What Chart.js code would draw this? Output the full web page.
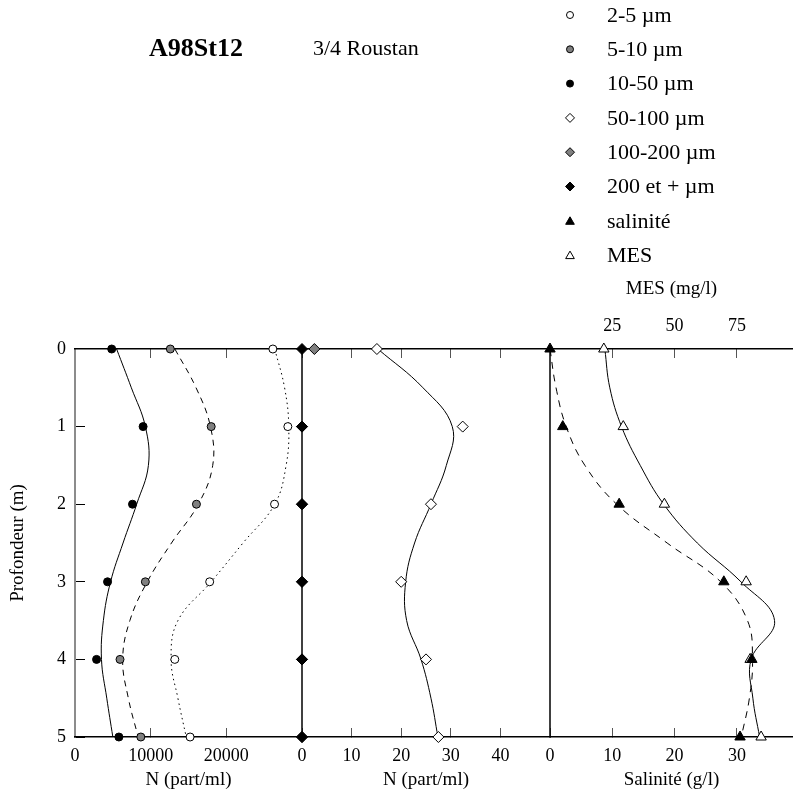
<!DOCTYPE html>
<html><head><meta charset="utf-8">
<script src="https://cdn.jsdelivr.net/npm/chart.js@4.4.1/dist/chart.umd.min.js"></script>
<style>
html,body{margin:0;padding:0;background:#fff;}
#wrap{position:relative;width:793px;height:796px;overflow:hidden;}
canvas{position:absolute;left:0;top:0;}
.t{position:absolute;font-family:"Liberation Serif","Times New Roman",serif;color:#000;white-space:nowrap;line-height:1;}
</style></head><body>
<div id="wrap">
<canvas id="c" width="793" height="796"></canvas>
<div class="t" style="left:149px;top:35px;font-size:26px;font-weight:bold;">A98St12</div>
<div class="t" style="left:313px;top:37px;font-size:22px;">3/4 Roustan</div>
</div>
<script>
// ---- data ----
const depths = [0, 1, 2, 3, 4, 5];
const curveDepths = [0, 0.5, 1, 1.5, 2, 2.5, 3, 3.5, 4, 4.5, 5];

// panel 1 : N (part/ml)
const n2to5   = [26150, 28130, 26370, 17800, 13190, 15210];
const n5to10  = [12600, 18000, 16050, 9300, 5950, 8700];
const n10to50 = [4850, 9000, 7600, 4300, 2850, 5800];
const curve2to5   = [26400, 27700, 28250, 27900, 26400, 22200, 18000, 13600, 12700, 13600, 14700];
const curve5to10  = [13200, 16000, 17900, 18200, 16300, 12750, 9550, 7250, 6300, 7050, 8350];
const curve10to50 = [5500, 7450, 9300, 9700, 8150, 6350, 4700, 3750, 3500, 4200, 5000];

// panel 2 : N (part/ml)
const n50to100  = [15.1, 32.4, 26.0, 20.0, 25.0, 27.5];
const n100to200 = [2.5, 0, 0, 0, 0, 0];
const n200plus  = [0, 0, 0, 0, 0, 0];
const curve50to100 = [15.3, 24.4, 30.3, 29.1, 26.0, 22.7, 20.9, 21.1, 24.0, 26.0, 27.4];

// panel 3 : salinité (g/l) and MES (mg/l)
const salinite = [0.0, 2.05, 11.1, 27.9, 32.4, 30.5];
const mes      = [21.6, 29.4, 45.9, 78.7, 80.3, 84.7];
const curveSalinite = [0, 0.97, 2.6, 5.6, 10.7, 18.8, 27.4, 31.7, 32.5, 32.0, 30.7];
const curveMes      = [22.0, 24.0, 28.7, 36.2, 45.6, 59.1, 76.6, 90.1, 80.7, 81.4, 84.1];

// ticks
const depthTicks = [0, 1, 2, 3, 4, 5];
const p1Ticks = [0, 10000, 20000];
const p1TickLabels = ['0', '10000', '20000'];
const p2Ticks = [0, 10, 20, 30, 40];
const p2TickLabels = ['0', '10', '20', '30', '40'];
const p3Ticks = [0, 10, 20, 30];
const p3TickLabels = ['0', '10', '20', '30'];
const mesTicks = [25, 50, 75];
const mesTickLabels = ['25', '50', '75'];

const legendLabels = ['2-5 µm', '5-10 µm', '10-50 µm', '50-100 µm', '100-200 µm', '200 et + µm', 'salinité', 'MES'];

// ---- chart ----
const serif = "'Liberation Serif','Times New Roman',serif";
const tickFont = {family: serif, size: 18};
const titleFont = {family: serif, size: 19};
const GRAY = '#808080';

const pts = (arr, ds) => ds.map((d, i) => ({x: arr[i], y: d}));
const labelFor = (vals, labels) => (v) => { const i = vals.indexOf(v); return i < 0 ? '' : labels[i]; };

function bottomAxis(min, max, weight, ticks, labels, title) {
  return {
    type: 'linear', position: 'bottom', stack: 'bottom', stackWeight: weight, min: min, max: max,
    afterBuildTicks: s => { s.ticks = ticks.map(v => ({value: v})); },
    afterFit: s => { s.height = 59; s.paddingLeft = 0; s.paddingRight = 0; },
    ticks: {callback: labelFor(ticks, labels), font: tickFont, color: '#000', padding: 17, maxRotation: 0, autoSkip: false},
    grid: {drawOnChartArea: false, tickLength: -9, tickColor: '#555', tickWidth: 1},
    border: {color: '#000', width: 1.5},
    title: {display: true, text: title, font: titleFont, color: '#000', padding: {top: 0, bottom: 4.6}}
  };
}
function topAxis(min, max, weight, order, ticks, labels, title) {
  return {
    type: 'linear', position: 'top', stack: 'top', stackWeight: weight, weight: order, min: min, max: max,
    afterBuildTicks: s => { s.ticks = ticks.map(v => ({value: v})); },
    afterFit: s => { s.height = 79; s.paddingLeft = 0; s.paddingRight = 0; },
    ticks: {display: !!labels, callback: labels ? labelFor(ticks, labels) : () => '', font: tickFont, color: '#000', padding: 21, maxRotation: 0, autoSkip: false},
    grid: {drawOnChartArea: false, tickLength: -9, tickColor: '#555', tickWidth: 1},
    border: {color: '#000', width: 1.5},
    title: {display: !!title, text: title || '', font: titleFont, color: '#000', padding: {top: 7.6, bottom: 0}}
  };
}

function pointSet(label, arr, xAxis, style, fill, radius) {
  return {label: label, data: pts(arr, depths), xAxisID: xAxis, yAxisID: 'y', showLine: false,
    pointStyle: style, pointRadius: radius, pointHoverRadius: radius, pointBackgroundColor: fill,
    pointBorderColor: '#000', pointBorderWidth: 1, backgroundColor: fill, borderColor: '#000', clip: false};
}
function curveSet(arr, xAxis, dash) {
  return {label: '', data: pts(arr, curveDepths), xAxisID: xAxis, yAxisID: 'y', showLine: true,
    pointRadius: 0, pointHoverRadius: 0, borderColor: '#000', borderWidth: 1, borderDash: dash,
    tension: 0.4, fill: false, clip: false};
}

const datasets = [
  pointSet('200 et + µm', n200plus, 'b2', 'rectRot', '#000', 5.5),
  pointSet('100-200 µm', n100to200, 'b2', 'rectRot', GRAY, 5.5),
  pointSet('50-100 µm', n50to100, 'b2', 'rectRot', '#fff', 5.5),
  pointSet('10-50 µm', n10to50, 'b1', 'circle', '#000', 4),
  pointSet('5-10 µm', n5to10, 'b1', 'circle', GRAY, 4),
  pointSet('2-5 µm', n2to5, 'b1', 'circle', '#fff', 4),
  pointSet('salinité', salinite, 'b3', 'triangle', '#000', 6),
  pointSet('MES', mes, 't3', 'triangle', '#fff', 6),
  curveSet(curve10to50, 'b1', []),
  curveSet(curve5to10, 'b1', [6, 5]),
  curveSet(curve2to5, 'b1', [1.5, 3.5]),
  curveSet(curve50to100, 'b2', []),
  curveSet(curveSalinite, 'b3', [7, 6]),
  curveSet(curveMes, 't3', [])
];

const dividers = {
  id: 'dividers',
  beforeDatasetsDraw(chart) {
    const {ctx, chartArea: a} = chart;
    ctx.save();
    ctx.strokeStyle = '#000';
    ctx.lineWidth = 1.5;
    ['b2', 'b3'].forEach(id => {
      const x = chart.scales[id].getPixelForValue(0);
      ctx.beginPath(); ctx.moveTo(x, a.top); ctx.lineTo(x, a.bottom); ctx.stroke();
    });
    ctx.restore();
  }
};

const LEG_X = 570, LEG_Y0 = 15, LEG_DY = 34.3;
const legendMarkers = {
  id: 'legendMarkers',
  afterDraw(chart) {
    const ctx = chart.ctx;
    legendLabels.forEach((lab, i) => {
      const ds = chart.data.datasets.find(d => d.label === lab);
      if (!ds) return;
      const r = ds.pointStyle === 'circle' ? 3.5 : (ds.pointStyle === 'triangle' ? 5 : 4.5);
      const y = LEG_Y0 + i * LEG_DY + (ds.pointStyle === 'triangle' ? 1 : 0);
      ctx.save();
      ctx.fillStyle = ds.pointBackgroundColor;
      ctx.strokeStyle = '#000';
      ctx.lineWidth = 1;
      Chart.helpers.drawPoint(ctx, {pointStyle: ds.pointStyle, radius: r, borderWidth: 1, rotation: 0}, LEG_X, y);
      ctx.restore();
    });
  }
};

// legend text as real DOM text
const wrap = document.getElementById('wrap');
legendLabels.forEach((lab, i) => {
  const d = document.createElement('div');
  d.className = 't';
  d.style.left = '607px';
  d.style.top = (LEG_Y0 + i * LEG_DY - 11.2) + 'px';
  d.style.fontSize = '22px';
  d.textContent = lab;
  wrap.appendChild(d);
});

new Chart(document.getElementById('c'), {
  type: 'scatter',
  data: {datasets: datasets},
  options: {
    responsive: false, animation: false, devicePixelRatio: 1,
    layout: {autoPadding: false, padding: {top: 270, left: 0, right: 0, bottom: 0}},
    plugins: {legend: {display: false}, tooltip: {enabled: false}, title: {display: false}},
    scales: {
      y: {
        type: 'linear', position: 'left', reverse: true, min: 0, max: 5,
        afterBuildTicks: s => { s.ticks = depthTicks.map(v => ({value: v})); },
        afterFit: s => { s.width = 75; },
        ticks: {font: tickFont, color: '#000', padding: 19, callback: v => String(v)},
        grid: {drawOnChartArea: false, tickLength: -10, tickColor: '#000', tickWidth: 1},
        border: {color: '#8c8c8c', width: 2},
        title: {display: true, text: 'Profondeur (m)', font: titleFont, color: '#000', padding: {top: 6.6, bottom: 0}}
      },
      b1: bottomAxis(0, 30000, 227, p1Ticks, p1TickLabels, 'N (part/ml)'),
      b2: bottomAxis(0, 50, 248, p2Ticks, p2TickLabels, 'N (part/ml)'),
      b3: bottomAxis(0, 39, 243, p3Ticks, p3TickLabels, 'Salinité (g/l)'),
      t3: topAxis(0, 97.5, 243, 1, mesTicks, mesTickLabels, 'MES (mg/l)'),
      t2: topAxis(0, 50, 248, 2, p2Ticks, null, null),
      t1: topAxis(0, 30000, 227, 3, p1Ticks, null, null)
    }
  },
  plugins: [dividers, legendMarkers]
});
</script>
</body></html>
